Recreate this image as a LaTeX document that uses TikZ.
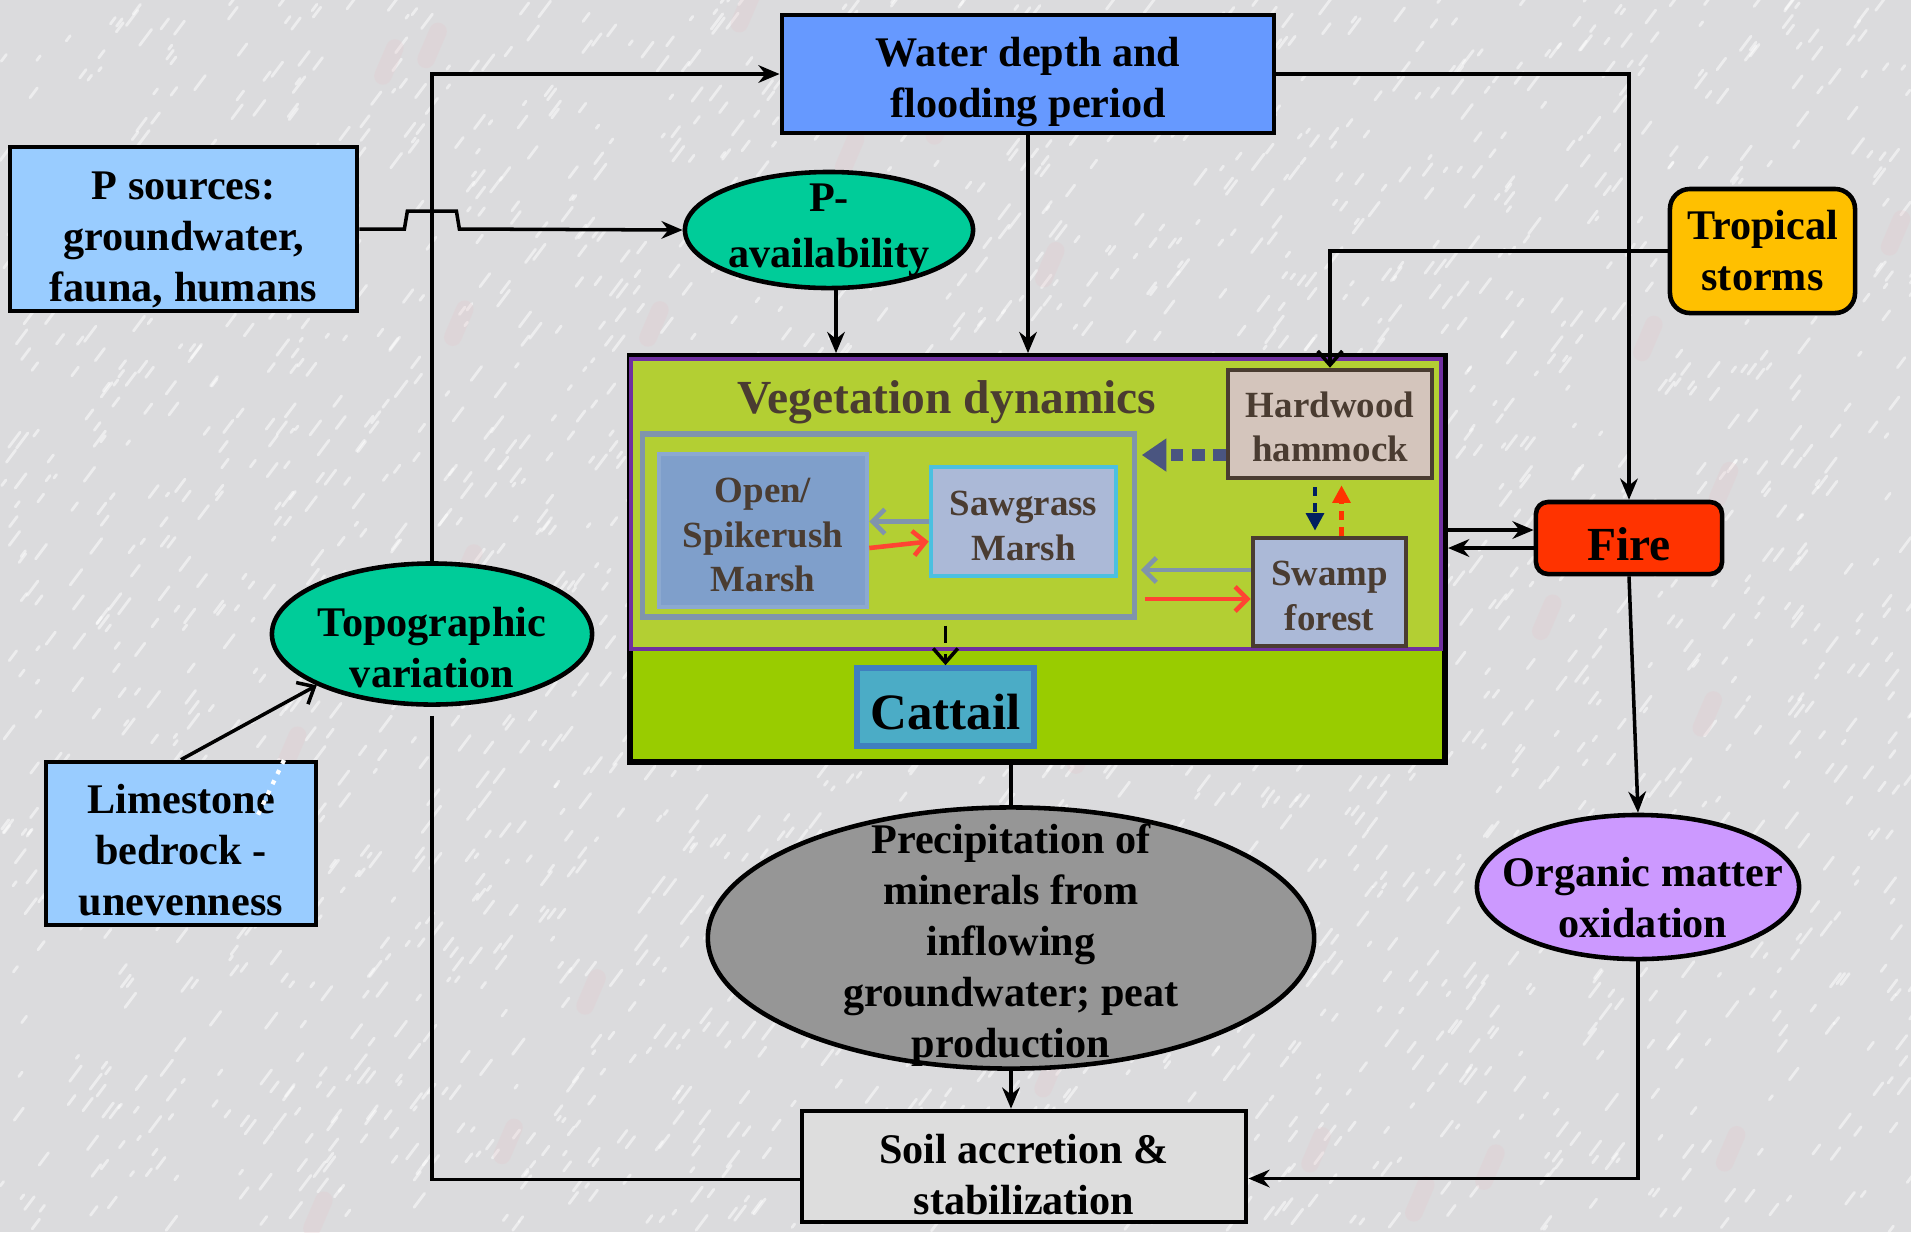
\documentclass[tikz,border=0pt]{standalone}
\usepackage{fontspec}
\setmainfont{Liberation Serif}
\usetikzlibrary{shapes.geometric,arrows.meta}

\definecolor{bgrey}{HTML}{DBDBDD}
\definecolor{pinkish}{HTML}{E8C4C8}
\definecolor{waterblue}{HTML}{6699FF}
\definecolor{paleblue}{HTML}{99CCFF}
\definecolor{seagreen}{HTML}{00CC99}
\definecolor{stormyellow}{HTML}{FFC000}
\definecolor{firered}{HTML}{FF3300}
\definecolor{lilac}{HTML}{CC99FF}
\definecolor{midgrey}{HTML}{969696}
\definecolor{soilgrey}{HTML}{DDDDDD}
\definecolor{vegdark}{HTML}{99CC00}
\definecolor{veglight}{HTML}{B3CF33}
\definecolor{vegpurple}{HTML}{7030A0}
\definecolor{barkbrown}{HTML}{4A3C31}
\definecolor{hammocktan}{HTML}{D4C5BC}
\definecolor{openblue}{HTML}{7F9FCB}
\definecolor{marshblue}{HTML}{ABB9D7}
\definecolor{cyanline}{HTML}{4BC0E0}
\definecolor{slateline}{HTML}{8094AC}
\definecolor{cattailblue}{HTML}{4BACC6}
\definecolor{cattailline}{HTML}{3F7FBF}
\definecolor{arrowred}{HTML}{FF4433}
\definecolor{dotnavy}{HTML}{002060}
\definecolor{dotslate}{HTML}{4A5580}

\begin{document}
\begin{tikzpicture}[x=0.01cm, y=-0.01cm,
  every node/.style={font=\bfseries\fontsize{12}{14.5}\selectfont, align=center},
  box/.style={draw=black, line width=1.3pt, inner sep=0pt},
  oval/.style={ellipse, draw=black, line width=1.3pt, inner sep=0pt},
  vegbox/.style={line width=1.3pt, inner sep=0pt},
  vegtext/.style={text=barkbrown, font=\bfseries\fontsize{10.5}{12.6}\selectfont},
  conn/.style={line width=1pt},
  arr/.style={conn, -{Stealth[length=6pt,width=5pt]}},
  openarr/.style={conn, -{Straight Barb[length=4pt,width=7pt]}},
  thinarr/.style={line width=1.3pt, -{Straight Barb[length=3.5pt,width=7pt]}}]

\useasboundingbox (0,0) rectangle (1911,1232);
\fill[bgrey] (0,0) rectangle (1911,1232);

% granite texture
\pgfmathsetseed{7}
\foreach \i in {1,...,2600}{
  \pgfmathsetmacro{\sx}{rnd*1911}
  \pgfmathsetmacro{\sy}{rnd*1232}
  \pgfmathsetmacro{\sl}{4+rnd*16}
  \draw[white, opacity=0.5, line width=0.8pt, line cap=round] (\sx,\sy) -- ++(0.6*\sl,-0.8*\sl);
}
\foreach \i in {1,...,30}{
  \pgfmathsetmacro{\sx}{rnd*1911}
  \pgfmathsetmacro{\sy}{rnd*1232}
  \draw[pinkish, opacity=0.22, line width=5pt, line cap=round] (\sx,\sy) -- ++(12,-28);
}

% outer boxes
\node[box, fill=waterblue, minimum width=4.92cm, minimum height=1.18cm] (water) at (1028,74) {};
\node (watertxt) at (1028,82) {Water depth and\\flooding period};
\node[box, fill=paleblue, minimum width=3.47cm, minimum height=1.64cm] (psrc) at (183.5,229) {};
\node (psrctxt) at (183.5,240) {P sources:\\groundwater,\\fauna, humans};
\node[oval, fill=seagreen, minimum width=2.88cm, minimum height=1.16cm] (pavail) at (829,230) {};
\node[font=\bfseries\fontsize{12}{16}\selectfont] (pavailtxt) at (829,230) {P-\\availability};
\node[box, fill=stormyellow, rounded corners=0.2cm, minimum width=1.85cm, minimum height=1.24cm] (storms) at (1762.5,251) {Tropical\\storms};
\node[box, fill=firered, rounded corners=0.12cm, minimum width=1.86cm, minimum height=0.72cm] (fire) at (1629,538) {};
\node[font=\bfseries\fontsize{13.5}{16}\selectfont] (firetxt) at (1629,544) {Fire};
\node[oval, fill=seagreen, minimum width=3.2cm, minimum height=1.41cm] (topo) at (432,634) {};
\node (topotxt) at (432,648) {Topographic\\variation};
\node[box, fill=paleblue, minimum width=2.7cm, minimum height=1.63cm] (limestone) at (181,843.5) {};
\node (limetxt) at (181,850) {Limestone\\bedrock -\\unevenness};
\node[oval, fill=midgrey, minimum width=6.06cm, minimum height=2.61cm] (precip) at (1011,938) {};
\node (preciptxt) at (1011,945) {Precipitation of\\minerals from\\inflowing\\groundwater; peat\\production};
\node[oval, fill=lilac, minimum width=3.22cm, minimum height=1.44cm] (organic) at (1638,887) {};
\node (organictxt) at (1643,898) {Organic matter\\oxidation};
\node[box, fill=soilgrey, minimum width=4.44cm, minimum height=1.11cm] (soil) at (1024,1166.5) {};
\node (soiltxt) at (1024,1175) {Soil accretion \&\\stabilization};

% vegetation dynamics
\node[draw=black, line width=1.6pt, fill=vegdark, minimum width=8.15cm, minimum height=4.06cm] (veg) at (1037.5,559) {};
\filldraw[fill=veglight, draw=vegpurple, line width=1pt] (631,359) rectangle (1441,649);
\node[text=barkbrown, font=\bfseries\fontsize{13.5}{16}\selectfont] (vegtitle) at (947,402) {Vegetation dynamics};
\node[draw=slateline, line width=1.5pt, minimum width=4.91cm, minimum height=1.83cm] (marsh) at (888.5,525.5) {};
\node[vegbox, draw=barkbrown, fill=hammocktan, minimum width=2.04cm, minimum height=1.08cm] (hardwood) at (1330,424) {};
\node[vegtext] (hardtxt) at (1330,427) {Hardwood\\hammock};
\node[vegbox, draw=openblue!90!white, fill=openblue, minimum width=2.08cm, minimum height=1.53cm] (openm) at (763,530.5) {};
\node[vegtext] (opentxt) at (763,535) {Open/\\Spikerush\\Marsh};
\node[vegbox, draw=cyanline, fill=marshblue, minimum width=1.85cm, minimum height=1.09cm] (sawg) at (1023.5,521.5) {};
\node[vegtext] (sawtxt) at (1023.5,526) {Sawgrass\\Marsh};
\node[vegbox, draw=barkbrown, fill=marshblue, minimum width=1.53cm, minimum height=1.08cm] (swamp) at (1329.5,592) {};
\node[vegtext] (swamptxt) at (1329.5,596) {Swamp\\forest};
\node[box, draw=cattailline, line width=1.6pt, fill=cattailblue, minimum width=1.77cm, minimum height=0.78cm] (cattail) at (945.5,707) {};
\node[font=\bfseries\fontsize{14.5}{17}\selectfont] (cattailtxt) at (945.5,712) {Cattail};

% connectors outside
\draw[arr] (topo.north) |- (water.west);
\draw[conn, shorten <=0.09cm] (topo.south) |- ([yshift=-0.13cm]soil.west);
\draw[arr] (psrc.east) -- ++(45,0) -- ++(3,-18) -- ++(49,0) -- ++(3,18) -- (pavail.west);
\draw[arr] ([xshift=0.07cm]pavail.south) -- ([xshift=0.07cm]pavail.south |- veg.north);
\draw[arr] (water.south) -- (water.south |- veg.north);
\draw[arr] (water.east) -| (fire.north);
\draw[openarr] (storms.west) -| (hardwood.north);
\coordinate (firein) at ([yshift=0.08cm]fire.west);
\coordinate (fireout) at ([yshift=-0.1cm]fire.west);
\draw[arr] (firein -| veg.east) -- (firein);
\draw[arr] (fireout) -- (fireout -| veg.east);
\draw[arr] (fire.south) -- (organic.north);
\draw[arr] (organic.south) |- ([yshift=-0.12cm]soil.east);
\draw[conn] (veg.south -| precip.north) -- (precip.north);
\draw[arr] (precip.south) -- (precip.south |- soil.north);
\draw[openarr] (limestone.north) -- (topo.204);
\draw[white, line width=1.2pt, dotted] (284,760) -- (257,817);

% connectors inside
\coordinate (sawin) at ([yshift=-0.2cm]sawg.west);
\coordinate (swampin) at ([yshift=-0.07cm]swamp.west);
\coordinate (swampout) at ([yshift=0.22cm]swamp.west);
\coordinate (hardout) at ([yshift=-0.31cm]hardwood.west);
\draw[thinarr, slateline] (sawg.west) -- (sawg.west -| openm.east);
\draw[thinarr, arrowred] ([yshift=-0.175cm]openm.east) -- (sawin);
\draw[thinarr, slateline] (swampout) -- ([xshift=0.04cm]swampout -| marsh.east);
\draw[thinarr, arrowred] ([xshift=0.08cm]swampin -| marsh.east) -- (swampin);
\draw[dotslate, line width=3.2pt, dash pattern=on 3.5pt off 2.5pt, -{Triangle[length=7pt,width=9pt]}] (hardout) -- ([xshift=0.05cm]hardout -| marsh.east);
\draw[dotnavy, line width=1.2pt, dash pattern=on 2.5pt off 2pt, -{Triangle[length=5pt,width=5pt]}, shorten <=0.07cm, shorten >=0.05cm] ([xshift=-0.15cm]hardwood.south) -- ([xshift=-0.15cm]hardwood.south |- swamp.north);
\draw[firered, line width=1.2pt, dash pattern=on 2.5pt off 2pt, -{Triangle[length=5pt,width=5pt]}, shorten >=0.05cm] ([xshift=0.12cm]swamp.north) -- ([xshift=0.12cm]swamp.north |- hardwood.south);
\draw[conn, dash pattern=on 5pt off 3pt, -{Straight Barb[length=4pt,width=7pt]}, shorten <=0.06cm] (cattail.north |- marsh.south) -- (cattail.north);

\end{tikzpicture}
\end{document}
